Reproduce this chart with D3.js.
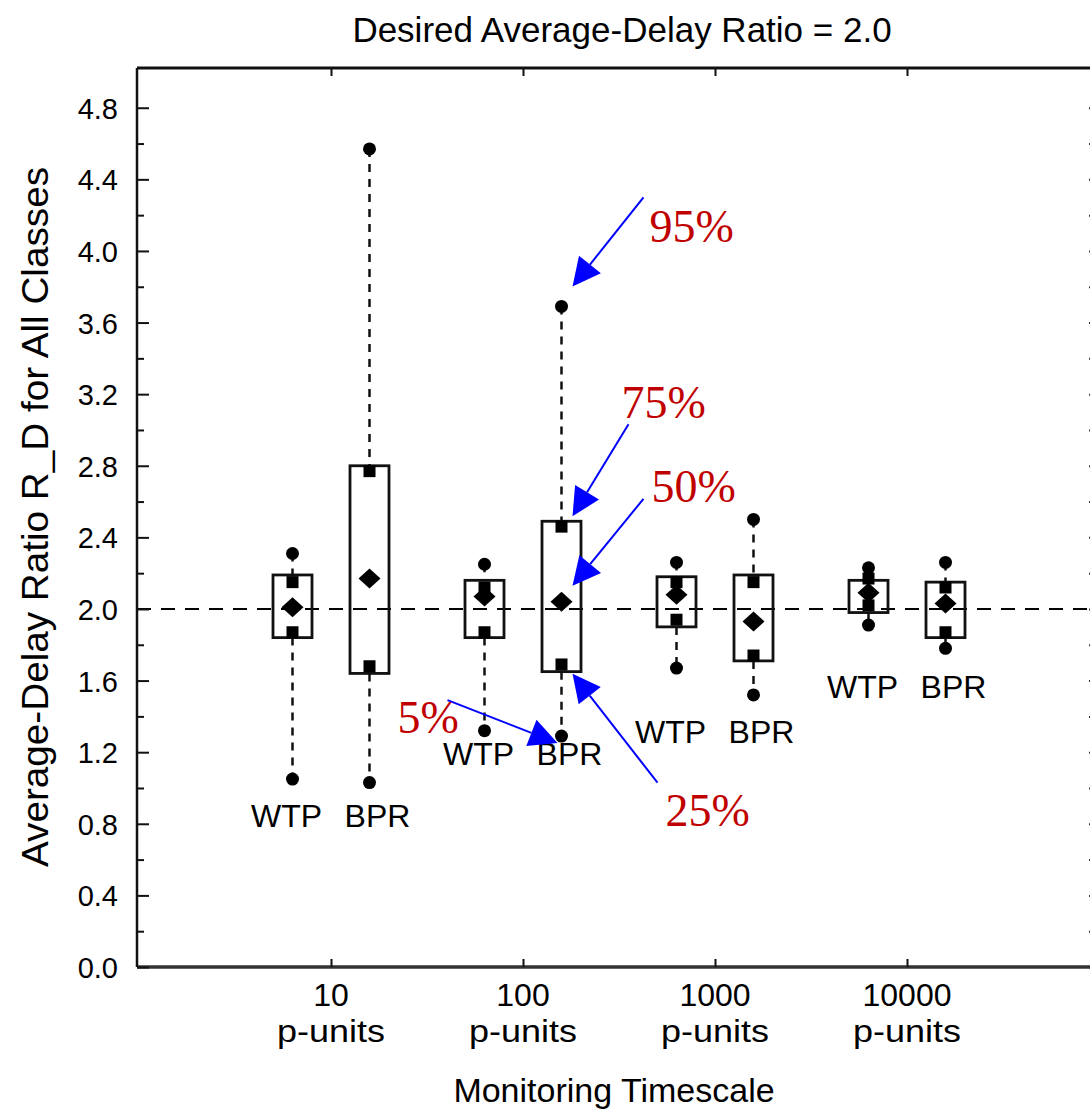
<!DOCTYPE html>
<html><head><meta charset="utf-8">
<script src="https://cdn.jsdelivr.net/npm/d3@7"></script>
<style>body{margin:0;background:#fff}svg{display:block}</style>
</head><body>
<script>
// ---- data ----
const timescales = [10, 100, 1000, 10000];
const categoryLabels = ["10", "100", "1000", "10000"];
const unitLabel = "p-units";
const seriesNames = ["WTP", "BPR"];
const wtpP95    = [2.31, 2.25, 2.26, 2.23];
const wtpBoxHi  = [2.19, 2.16, 2.18, 2.16];
const wtpP75    = [2.15, 2.12, 2.15, 2.17];
const wtpMedian = [2.01, 2.07, 2.08, 2.09];
const wtpP25    = [1.87, 1.87, 1.94, 2.02];
const wtpBoxLo  = [1.84, 1.84, 1.90, 1.98];
const wtpP5     = [1.05, 1.32, 1.67, 1.91];
const bprP95    = [4.57, 3.69, 2.50, 2.26];
const bprBoxHi  = [2.80, 2.49, 2.19, 2.15];
const bprP75    = [2.77, 2.46, 2.15, 2.12];
const bprMedian = [2.17, 2.04, 1.93, 2.03];
const bprP25    = [1.68, 1.69, 1.74, 1.87];
const bprBoxLo  = [1.64, 1.65, 1.71, 1.84];
const bprP5     = [1.03, 1.29, 1.52, 1.78];
const groupLabelLevel = [0.78, 1.13, 1.25, 1.50];
const desiredRatio = 2.0;
const yMajorTicks = [0.0,0.4,0.8,1.2,1.6,2.0,2.4,2.8,3.2,3.6,4.0,4.4,4.8];
const yMinorTicks = [0.2,0.6,1.0,1.4,1.8,2.2,2.6,3.0,3.4,3.8,4.2,4.6];
const titleText = "Desired Average-Delay Ratio = 2.0";
const yTitle = "Average-Delay Ratio R_D for All Classes";
const xTitle = "Monitoring Timescale";
// annotation: label, which statistic of BPR at 100 p-units it points to
const annotations = [
  {label:"95%", stat:"p95"},
  {label:"75%", stat:"boxHi"},
  {label:"50%", stat:"median"},
  {label:"5%",  stat:"p5"},
  {label:"25%", stat:"boxLo"}
];

// ---- build ----
const W = 1090, H = 1113;
const plotLeft = 137, plotTop = 68, plotBottom = 967, plotRight = 1097;
const x = d3.scaleLog().domain([1, 1e5]).range([139, 1099]);
const y = d3.scaleLinear().domain([0, 5.022]).range([plotBottom, plotTop]);

const rows = [];
timescales.forEach((t, i) => {
  rows.push({t, i, s:"WTP", p95:wtpP95[i], boxHi:wtpBoxHi[i], p75:wtpP75[i], median:wtpMedian[i], p25:wtpP25[i], boxLo:wtpBoxLo[i], p5:wtpP5[i]});
  rows.push({t, i, s:"BPR", p95:bprP95[i], boxHi:bprBoxHi[i], p75:bprP75[i], median:bprMedian[i], p25:bprP25[i], boxLo:bprBoxLo[i], p5:bprP5[i]});
});
const off = {WTP:-38.5, BPR:38.5};
const cx = d => x(d.t) + off[d.s];
const halfW = 19.5;

const svg = d3.select("body").append("svg").attr("width", W).attr("height", H);
const sans = "'Liberation Sans', Arial, Helvetica, sans-serif";

// title
svg.append("text").attr("x", 622).attr("y", 42).attr("text-anchor","middle")
  .attr("font-family", sans).attr("font-size", 35).attr("fill","#000").text(titleText);

// reference dashed line
svg.append("line").attr("x1", plotLeft).attr("x2", plotRight)
  .attr("y1", y(desiredRatio)).attr("y2", y(desiredRatio))
  .attr("stroke","#000").attr("stroke-width",2.2).attr("stroke-dasharray","14,10");

// frame
svg.append("line").attr("x1",plotLeft).attr("x2",plotRight).attr("y1",plotTop).attr("y2",plotTop).attr("stroke","#111").attr("stroke-width",3);
svg.append("line").attr("x1",plotLeft).attr("x2",plotRight).attr("y1",plotBottom).attr("y2",plotBottom).attr("stroke","#333").attr("stroke-width",3.5);
svg.append("line").attr("x1",plotRight).attr("x2",plotRight).attr("y1",plotTop).attr("y2",plotBottom).attr("stroke","#111").attr("stroke-width",2.5);

// y axis
const yAxis = svg.append("g").attr("transform", `translate(${plotLeft},0)`)
  .call(d3.axisLeft(y).tickValues(yMajorTicks).tickFormat(d3.format(".1f")).tickSize(-12).tickPadding(19));
yAxis.select(".domain").attr("stroke","#111").attr("stroke-width",2.5).attr("d", `M0,${plotTop}V${plotBottom}`);
yAxis.selectAll(".tick line").attr("stroke","#111").attr("stroke-width",2);
yAxis.selectAll(".tick text").attr("font-family", sans).attr("font-size", 29).attr("fill","#000").attr("dy","0.36em");
const yMinor = svg.append("g").attr("transform", `translate(${plotLeft},0)`)
  .call(d3.axisLeft(y).tickValues(yMinorTicks).tickFormat("").tickSize(-7));
yMinor.select(".domain").remove();
yMinor.selectAll(".tick line").attr("stroke","#111").attr("stroke-width",2);
// right mirror ticks
const yRight = svg.append("g").attr("transform", `translate(${plotRight},0)`)
  .call(d3.axisRight(y).tickValues(yMajorTicks.concat(yMinorTicks)).tickFormat("").tickSize(-8));
yRight.select(".domain").remove();
yRight.selectAll(".tick line").attr("stroke","#333").attr("stroke-width",2);

// x ticks (top and bottom, inward)
const xTop = svg.append("g").attr("transform", `translate(0,${plotTop})`)
  .call(d3.axisTop(x).tickValues(timescales).tickFormat("").tickSize(-8));
xTop.select(".domain").remove();
xTop.selectAll(".tick line").attr("stroke","#111").attr("stroke-width",2);
const xBot = svg.append("g").attr("transform", `translate(0,${plotBottom})`)
  .call(d3.axisBottom(x).tickValues(timescales).tickFormat("").tickSize(-8));
xBot.select(".domain").remove();
xBot.selectAll(".tick line").attr("stroke","#111").attr("stroke-width",2);

// x labels
const xl = svg.append("g");
timescales.forEach((t,i) => {
  xl.append("text").attr("x", x(t)).attr("y", 1006).attr("text-anchor","middle")
    .attr("font-family", sans).attr("font-size", 32).text(categoryLabels[i]);
  xl.append("text").attr("x", x(t)).attr("y", 1042).attr("text-anchor","middle")
    .attr("font-family", sans).attr("font-size", 32).attr("textLength", 108).attr("lengthAdjust","spacingAndGlyphs").text(unitLabel);
});
svg.append("text").attr("x", 614).attr("y", 1102).attr("text-anchor","middle")
  .attr("font-family", sans).attr("font-size", 34).text(xTitle);

// y title
svg.append("text").attr("transform", "translate(48,517) rotate(-90)").attr("text-anchor","middle")
  .attr("font-family", sans).attr("font-size", 37).attr("textLength", 700).attr("lengthAdjust","spacingAndGlyphs").text(yTitle);

// whiskers
const g = svg.append("g");
g.selectAll("line.wu").data(rows).join("line")
  .attr("x1", cx).attr("x2", cx).attr("y1", d => y(d.p95)).attr("y2", d => y(d.boxHi))
  .attr("stroke","#111").attr("stroke-width",2.5).attr("stroke-dasharray","8,7");
g.selectAll("line.wl").data(rows).join("line")
  .attr("x1", cx).attr("x2", cx).attr("y1", d => y(d.boxLo)).attr("y2", d => y(d.p5))
  .attr("stroke","#111").attr("stroke-width",2.5).attr("stroke-dasharray","8,7");
// boxes
g.selectAll("rect.box").data(rows).join("rect")
  .attr("x", d => cx(d) - halfW).attr("width", halfW*2)
  .attr("y", d => y(d.boxHi)).attr("height", d => y(d.boxLo) - y(d.boxHi))
  .attr("fill","none").attr("stroke","#111").attr("stroke-width",2.8);
// quartile squares
const sq = 12;
g.selectAll("rect.q75").data(rows).join("rect")
  .attr("x", d => cx(d) - sq/2).attr("y", d => y(d.p75) - sq/2).attr("width", sq).attr("height", sq).attr("fill","#000");
g.selectAll("rect.q25").data(rows).join("rect")
  .attr("x", d => cx(d) - sq/2).attr("y", d => y(d.p25) - sq/2).attr("width", sq).attr("height", sq).attr("fill","#000");
// median diamonds
g.selectAll("path.med").data(rows).join("path")
  .attr("d", d => { const X = cx(d), Y = y(d.median); return `M${X-11},${Y}L${X},${Y-10}L${X+11},${Y}L${X},${Y+10}Z`; })
  .attr("fill","#000");
// percentile dots
g.selectAll("circle.p95").data(rows).join("circle")
  .attr("cx", cx).attr("cy", d => y(d.p95)).attr("r", 6.5).attr("fill","#000");
g.selectAll("circle.p5").data(rows).join("circle")
  .attr("cx", cx).attr("cy", d => y(d.p5)).attr("r", 6.5).attr("fill","#000");

// series labels under each pair
const labelShift = {WTP:-6, BPR:8};
timescales.forEach((t,i) => {
  seriesNames.forEach(s => {
    svg.append("text").attr("x", x(t) + off[s] + labelShift[s]).attr("y", y(groupLabelLevel[i]))
      .attr("text-anchor","middle").attr("font-family", sans).attr("font-size", 32).text(s);
  });
});

// annotations pointing at BPR @ 100 p-units
const target = rows.find(r => r.s === "BPR" && r.t === 100);
const tx = cx(target);
const annLayout = {
  "95%": {tip:[11,-20], start:[71,-89], text:[88,-64]},
  "75%": {tip:[11,-5],  start:[56,-92], text:[60,-103]},
  "50%": {tip:[11,-16], start:[71,-87], text:[90,-100]},
  "5%":  {tip:[-4,7],   start:[-110,-43], text:[-164,-3]},
  "25%": {tip:[11,2],   start:[85,109], text:[104,154]}
};
const blue = "#0000ff", red = "#c00000";
annotations.forEach(a => {
  const L = annLayout[a.label];
  const baseY = y(target[a.stat]);
  const tipX = tx + L.tip[0], tipY = baseY + L.tip[1];
  const sX = tipX + L.start[0], sY = tipY + L.start[1];
  const ang = Math.atan2(tipY - sY, tipX - sX);
  const hl = 28, hw = 14;
  const bx = tipX - hl*Math.cos(ang), by = tipY - hl*Math.sin(ang);
  svg.append("line").attr("x1", sX).attr("y1", sY).attr("x2", bx).attr("y2", by)
    .attr("stroke", blue).attr("stroke-width", 2);
  const px = -Math.sin(ang), py = Math.cos(ang);
  svg.append("path").attr("d", `M${tipX},${tipY}L${bx+hw*px},${by+hw*py}L${bx-hw*px},${by-hw*py}Z`).attr("fill", blue);
  svg.append("text").attr("x", tx + L.text[0]).attr("y", baseY + L.text[1])
    .attr("font-family","'Liberation Serif','Times New Roman',serif").attr("font-size", 46)
    .attr("fill", red).text(a.label);
});
</script>
</body></html>
